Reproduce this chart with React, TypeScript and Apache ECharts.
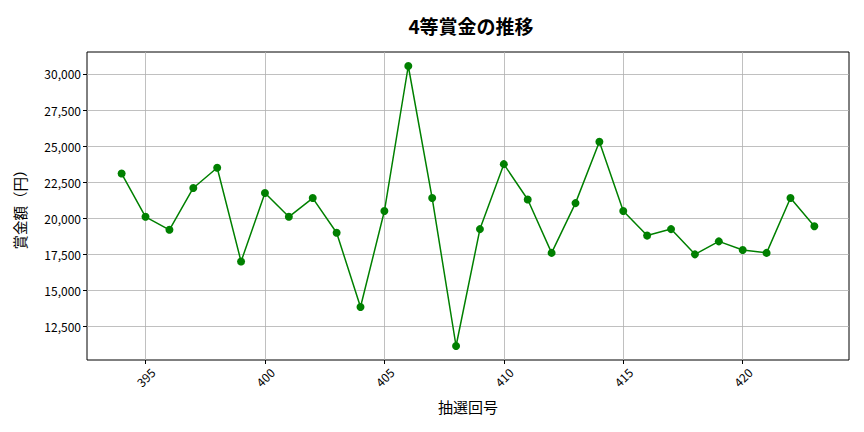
import * as echarts from "echarts"
import { useEffect, useRef } from "react"

const draws = [
  394, 395, 396, 397, 398, 399, 400, 401, 402, 403, 404, 405, 406, 407, 408,
  409, 410, 411, 412, 413, 414, 415, 416, 417, 418, 419, 420, 421, 422, 423,
]
const prizes = [
  23100, 20100, 19200, 22100, 23500, 17000, 21750, 20100, 21400, 19000, 13850,
  20500, 30550, 21400, 11150, 19250, 23750, 21300, 17600, 21050, 25300, 20500,
  18800, 19250, 17500, 18400, 17800, 17600, 21400, 19450,
]
const xTicks = [395, 400, 405, 410, 415, 420]
const yTicks = [12500, 15000, 17500, 20000, 22500, 25000, 27500, 30000]

const FONT = "'Noto Sans CJK JP', 'Noto Sans', sans-serif"

// matplotlib-style 5% padding around the data
function padded(values: number[]): [number, number] {
  const lo = Math.min(...values)
  const hi = Math.max(...values)
  const pad = (hi - lo) * 0.05
  return [lo - pad, hi + pad]
}

export default function App(): React.ReactElement {
  const ref = useRef<HTMLDivElement>(null)

  useEffect(() => {
    document.body.style.margin = "0"
    const node = ref.current
    if (!node) return
    const chart = echarts.init(node, undefined, { renderer: "svg" })

    const [xMin, xMax] = padded(draws)
    const [yMin, yMax] = padded(prizes)

    chart.setOption({
      animation: false,
      backgroundColor: "#ffffff",
      textStyle: { fontFamily: FONT },
      title: {
        text: "4等賞金の推移",
        left: 466,
        top: 11,
        textAlign: "center",
        textStyle: { fontFamily: FONT, fontSize: 19, fontWeight: "bold", color: "#000" },
      },
      grid: {
        left: 87,
        right: 15,
        top: 52,
        bottom: 72,
        show: true,
        borderColor: "#000",
        borderWidth: 1,
        containLabel: false,
      },
      xAxis: {
        type: "value",
        min: xMin,
        max: xMax,
        name: "抽選回号",
        nameLocation: "middle",
        nameGap: 39,
        nameTextStyle: { fontFamily: FONT, fontSize: 15, color: "#000" },
        axisLine: { show: false },
        axisTick: {
          show: true,
          length: 4,
          lineStyle: { color: "#000" },
          customValues: xTicks,
        },
        axisLabel: {
          rotate: 45,
          align: "center",
          verticalAlign: "middle",
          margin: 17,
          fontSize: 12,
          color: "#000",
          fontFamily: FONT,
          customValues: xTicks,
        },
        splitLine: { show: true, lineStyle: { color: "#b0b0b0", width: 0.8 } },
      },
      yAxis: {
        type: "value",
        min: yMin,
        max: yMax,
        name: "賞金額（円）",
        nameLocation: "middle",
        nameGap: 60,
        nameTextStyle: { fontFamily: FONT, fontSize: 14.5, color: "#000" },
        axisLine: { show: false },
        axisTick: {
          show: true,
          length: 4,
          lineStyle: { color: "#000" },
          customValues: yTicks,
        },
        axisLabel: {
          margin: 6,
          fontSize: 12,
          color: "#000",
          fontFamily: FONT,
          customValues: yTicks,
          formatter: (v: number) => v.toLocaleString("en-US"),
        },
        splitLine: { show: true, lineStyle: { color: "#b0b0b0", width: 0.8 } },
      },
      series: [
        {
          type: "line",
          data: draws.map((d, i) => [d, prizes[i]]),
          symbol: "circle",
          symbolSize: 8,
          itemStyle: { color: "#008000" },
          lineStyle: { color: "#008000", width: 1.5 },
        },
      ],
    })

    return () => chart.dispose()
  }, [])

  return <div ref={ref} style={{ width: 864, height: 432 }} />
}
